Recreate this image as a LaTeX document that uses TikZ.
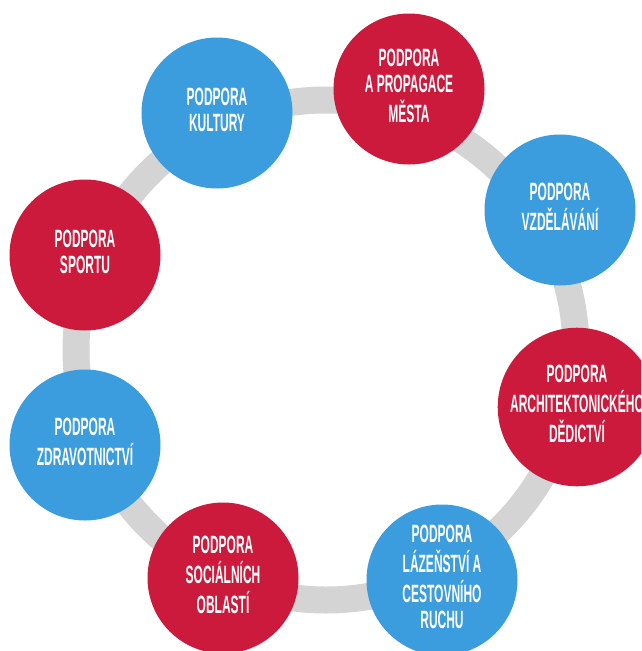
\documentclass[tikz,border=0pt]{standalone}
\usepackage{fontspec}
\setmainfont{Liberation Sans}
\usepackage{graphicx}
\definecolor{podred}{HTML}{CC1A3C}
\definecolor{podblue}{HTML}{3C9DDE}
\definecolor{ringgray}{HTML}{D4D4D4}
\newcommand{\podtext}[1]{\scalebox{0.48}[1]{\begin{tabular}{@{}c@{}}#1\end{tabular}}}

\begin{document}
\begin{tikzpicture}[x=1pt, y=-1pt,
    bubble/.style={circle, minimum size=151pt, inner sep=0pt, text=white,
        font=\fontsize{25}{26}\selectfont\bfseries},
    redbubble/.style={bubble, fill=podred},
    bluebubble/.style={bubble, fill=podblue}]

    \useasboundingbox (0,0) rectangle (641,651);
    \clip (0,0) rectangle (641,651);

    \coordinate (mid) at (326,350);
    \draw[ringgray, line width=27pt] (mid) circle [radius=250];

    \node[bluebubble] (kultura) at (217,113) {\podtext{PODPORA\\KULTURY}};
    \node[redbubble]  (mesto)   at (409,89)  {\podtext{PODPORA\\A PROPAGACE\\MĚSTA}};
    \node[bluebubble] (skolstvi) at (560,210) {\podtext{PODPORA\\VZDĚLÁVÁNÍ}};
    \node[redbubble]  (dedictvi) at (577,407) {\podtext{PODPORA\\ARCHITEKTONICKÉHO\\DĚDICTVÍ}};
    \node[bluebubble] (lazne)   at (442,580) {\podtext{PODPORA\\LÁZEŇSTVÍ A\\CESTOVNÍHO\\RUCHU}};
    \node[redbubble]  (socialni) at (223,578) {\podtext{PODPORA\\SOCIÁLNÍCH\\OBLASTÍ}};
    \node[bluebubble] (zdravi)  at (85,445)  {\podtext{PODPORA\\ZDRAVOTNICTVÍ}};
    \node[redbubble]  (sport)   at (85,255)  {\podtext{PODPORA\\SPORTU}};

\end{tikzpicture}
\end{document}
